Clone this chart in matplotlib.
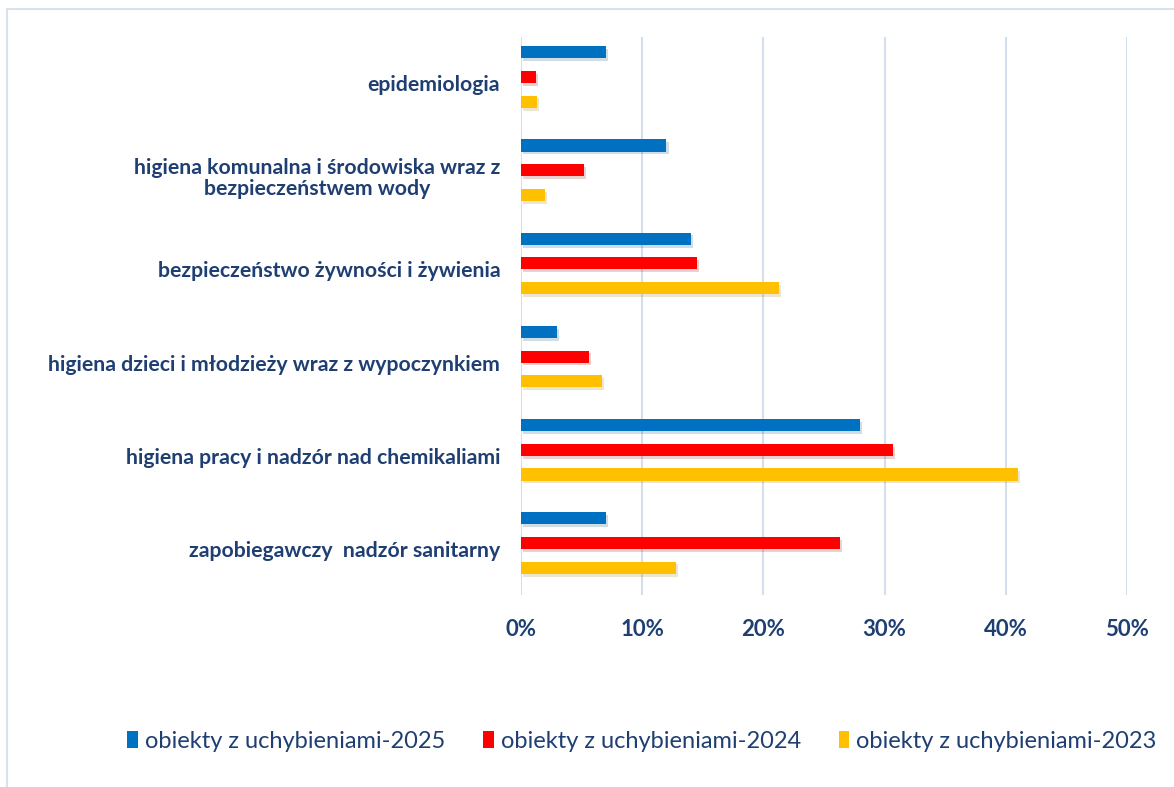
import numpy as np
import matplotlib
matplotlib.use('Agg')
import matplotlib.pyplot as plt
import matplotlib.patheffects as pe
import matplotlib.transforms as mtransforms
from matplotlib.patches import Rectangle
from matplotlib.ticker import PercentFormatter

# data (fractions)
categories = ['epidemiologia',
              'higiena komunalna i środowiska wraz z\nbezpieczeństwem wody',
              'bezpieczeństwo żywności i żywienia',
              'higiena dzieci i młodzieży wraz z wypoczynkiem',
              'higiena pracy i nadzór nad chemikaliami',
              'zapobiegawczy  nadzór sanitarny']
v2025 = [0.070, 0.120, 0.140, 0.030, 0.280, 0.070]
v2024 = [0.012, 0.052, 0.145, 0.056, 0.307, 0.263]
v2023 = [0.013, 0.020, 0.213, 0.067, 0.410, 0.128]
series_names = ['obiekty z uchybieniami-2025', 'obiekty z uchybieniami-2024',
                'obiekty z uchybieniami-2023']
colors = ['#0070C0', '#FF0000', '#FFC000']

txt = '#1F3F73'
grid_c = '#D3DFEF'

plt.rcParams['font.family'] = ['Lato', 'DejaVu Sans']

fig = plt.figure(figsize=(11.74, 7.87), dpi=100)
W, H = 1174, 787
# axes in pixel coords: x 521..1127, y 37..595
ax = fig.add_axes([521/W, 1-595/H, (1127-521)/W, (595-37)/H])

# outer border of the chart area
fig.patches.append(Rectangle((7/W, -0.05), 1.2, 1-9/H+0.05, transform=fig.transFigure,
                             fill=False, edgecolor='#D9E1EC', lw=1.5))

y = np.arange(len(categories))
bh = 0.13
off = 0.265
shadow = [pe.SimplePatchShadow(offset=(1.5, -2), alpha=0.18, rho=0.6), pe.Normal()]
for vals, dy, c, name in zip([v2025, v2024, v2023], [-off, 0, off], colors, series_names):
    bars = ax.barh(y + dy, vals, height=bh, color=c, label=name, zorder=3)
    for b in bars:
        b.set_path_effects(shadow)

ax.set_xlim(0, 0.5)
ax.set_ylim(5.558, -0.429)
ax.set_xticks(np.arange(0, 0.51, 0.1))
ax.xaxis.set_major_formatter(PercentFormatter(1.0, decimals=0))
ax.set_yticks(y)
ax.set_yticklabels(categories, ha='right', multialignment='center', linespacing=1.05)
ax.grid(axis='x', color=grid_c, lw=1.5, zorder=0)
for s in ax.spines.values():
    s.set_visible(False)
ax.tick_params(axis='both', length=0)
ax.tick_params(axis='y', pad=15, labelsize=15.3, labelcolor=txt)
ax.tick_params(axis='x', pad=17, labelsize=16, labelcolor=txt)
shift = mtransforms.ScaledTranslation(0, -6/100, fig.dpi_scale_trans)
for t in ax.get_yticklabels():
    t.set_fontweight('bold')
    t.set_transform(t.get_transform() + shift)
for t in ax.get_xticklabels():
    t.set_fontweight('bold')

leg = fig.legend(loc='center', bbox_to_anchor=(642/W, 1-741/H), ncol=3, frameon=False,
                 fontsize=17, handlelength=0.45, handleheight=0.75, handletextpad=0.3,
                 columnspacing=1.6, labelcolor=txt)
for h in leg.legend_handles:
    h.set_path_effects([])

fig.savefig('out.png', dpi=100)
